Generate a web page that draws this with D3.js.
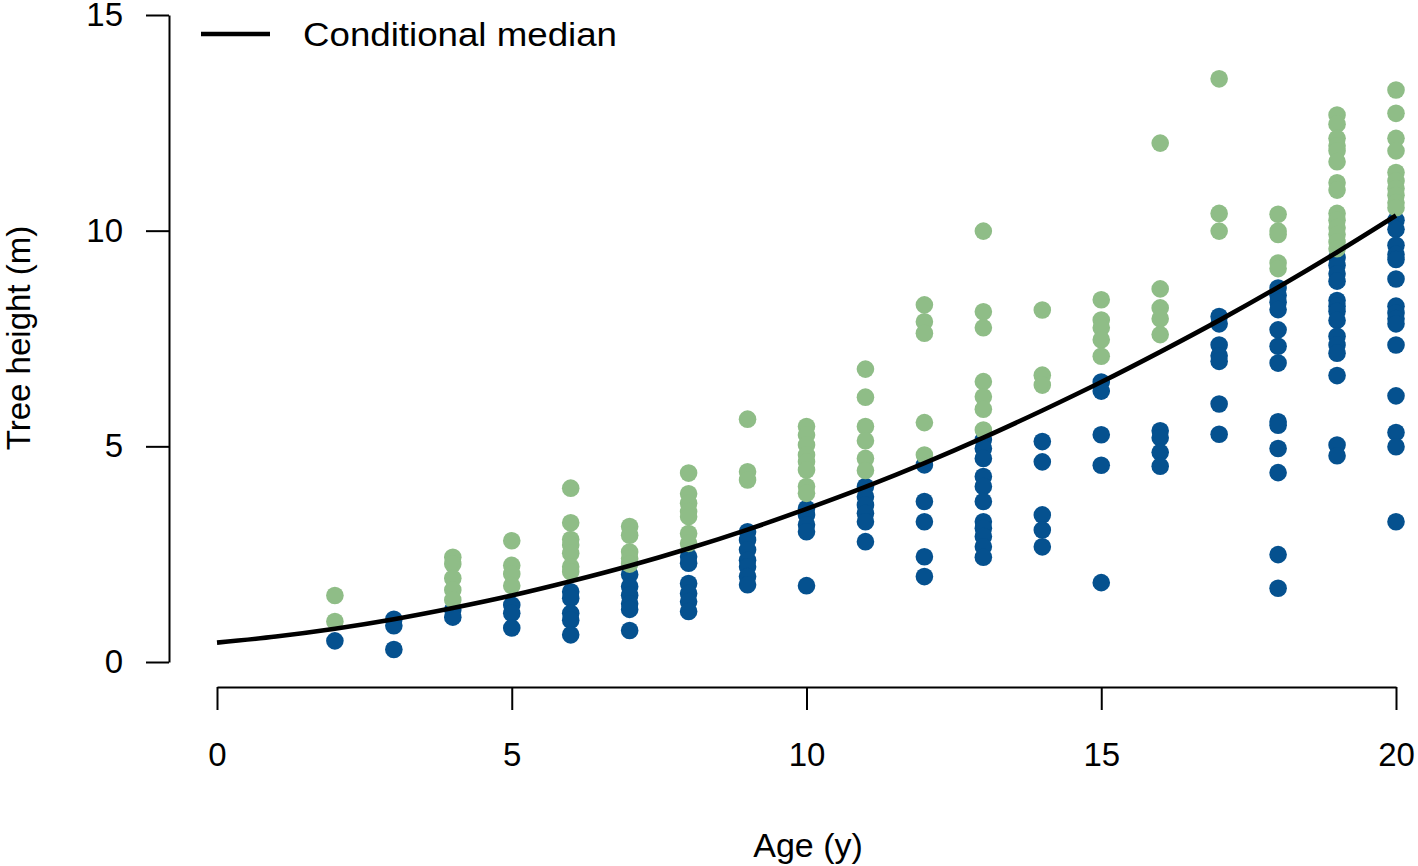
<!DOCTYPE html>
<html>
<head>
<meta charset="utf-8">
<script src="https://cdn.jsdelivr.net/npm/d3@7"></script>
<style>
  html, body { margin: 0; padding: 0; background: #fff; }
  svg { display: block; font-family: "Liberation Sans", Arial, Helvetica, sans-serif; }
</style>
</head>
<body>
<svg id="chart" width="1418" height="866"></svg>
<script>
// ---- data ----
const ages = [2,3,4,5,6,7,8,9,10,11,12,13,14,15,16,17,18,19,20];

// green points (above the conditional median)
const upperHeights = [
  [1.54, 0.94],
  [],
  [2.43, 2.27, 1.94, 1.67, 1.44],
  [2.81, 2.24, 2.04, 1.77],
  [4.03, 3.23, 2.84, 2.71, 2.52, 2.21, 2.09],
  [3.14, 2.94, 2.55, 2.40, 2.27],
  [4.38, 3.90, 3.68, 3.49, 3.37, 2.98, 2.75],
  [5.63, 4.41, 4.22],
  [5.46, 5.26, 5.03, 4.80, 4.64, 4.45, 4.07, 3.91],
  [6.79, 6.14, 5.46, 5.13, 4.72, 4.44],
  [8.28, 7.89, 7.62, 5.55, 4.80],
  [9.99, 8.12, 7.75, 6.50, 6.15, 5.86, 5.38],
  [8.16, 6.65, 6.42],
  [8.40, 7.93, 7.75, 7.47, 7.09],
  [12.03, 8.65, 8.21, 7.96, 7.59],
  [13.52, 10.40, 9.99],
  [10.38, 9.99, 9.91, 9.25, 9.12],
  [12.68, 12.47, 12.14, 11.97, 11.85, 11.60, 11.11, 10.94, 10.40, 10.24, 10.07, 9.91, 9.74, 9.58],
  [13.26, 12.72, 12.14, 11.85, 11.35, 11.15, 10.98, 10.82, 10.65, 10.53]
];

// blue points (below the conditional median)
const lowerHeights = [
  [0.49],
  [0.99, 0.84, 0.29],
  [1.21, 1.04],
  [1.32, 1.13, 0.79],
  [1.63, 1.48, 1.13, 0.97, 0.63],
  [2.03, 1.75, 1.55, 1.35, 1.22, 0.73],
  [2.44, 2.29, 1.82, 1.59, 1.40, 1.17],
  [3.02, 2.83, 2.60, 2.36, 2.21, 1.98, 1.79],
  [3.56, 3.41, 3.18, 3.02, 1.77],
  [4.07, 3.83, 3.64, 3.45, 3.25, 2.79],
  [4.57, 3.72, 3.25, 2.44, 1.98],
  [5.15, 4.95, 4.72, 4.30, 4.07, 3.72, 3.25, 3.10, 2.91, 2.67, 2.43],
  [5.11, 4.64, 3.41, 3.06, 2.67],
  [6.49, 6.28, 5.27, 4.56, 1.84],
  [5.36, 5.20, 4.86, 4.54],
  [8.01, 7.84, 7.35, 7.10, 6.97, 5.98, 5.28],
  [8.67, 8.50, 8.34, 8.17, 7.70, 7.32, 6.93, 5.57, 5.49, 4.95, 4.39, 2.49, 1.71],
  [9.37, 9.20, 9.00, 8.83, 8.38, 8.25, 8.13, 7.92, 7.55, 7.35, 7.16, 6.64, 5.03, 4.78],
  [10.24, 10.03, 9.66, 9.45, 9.33, 8.88, 8.25, 8.09, 7.96, 7.84, 7.35, 6.17, 5.32, 4.99, 3.25]
];

// conditional median curve, read at integer ages 0..20
const medianAges = [0,1,2,3,4,5,6,7,8,9,10,11,12,13,14,15,16,17,18,19,20];
const medianHeights = [0.45,0.59,0.77,0.99,1.25,1.54,1.87,2.23,2.63,3.07,3.55,4.06,4.61,5.20,5.83,6.49,7.19,7.92,8.69,9.50,10.35];

const xTicks = [0, 5, 10, 15, 20];
const yTicks = [0, 5, 10, 15];
const xTitle = "Age (y)";
const yTitle = "Tree height (m)";
const legendLabel = "Conditional median";

// ---- drawing ----
const svg = d3.select("#chart");
const x = d3.scaleLinear().domain([0, 20]).range([217, 1396]);
const y = d3.scaleLinear().domain([0, 15]).range([662, 15]);

const GREEN = "#8fbd87";
const BLUE = "#05518f";
const R = 8.8;

const flat = (heights) => heights.flatMap((hs, i) => hs.map(h => ({age: ages[i], h})));

// blue below, green on top
svg.append("g").selectAll("circle")
  .data(flat(lowerHeights)).join("circle")
  .attr("cx", d => x(d.age)).attr("cy", d => y(d.h)).attr("r", R)
  .attr("fill", BLUE);

svg.append("g").selectAll("circle")
  .data(flat(upperHeights)).join("circle")
  .attr("cx", d => x(d.age)).attr("cy", d => y(d.h)).attr("r", R)
  .attr("fill", GREEN);

// median curve
const line = d3.line()
  .x(d => x(d[0])).y(d => y(d[1]))
  .curve(d3.curveMonotoneX);
svg.append("path")
  .datum(medianAges.map((a, i) => [a, medianHeights[i]]))
  .attr("d", line)
  .attr("fill", "none")
  .attr("stroke", "#000")
  .attr("stroke-width", 4.6);

// axes
const fontSize = 33;
const xAxis = svg.append("g")
  .attr("transform", "translate(0,687)")
  .call(d3.axisBottom(x).tickValues(xTicks).tickSize(23).tickSizeOuter(0).tickPadding(33).tickFormat(d3.format("d")));
const yAxis = svg.append("g")
  .attr("transform", "translate(169,0)")
  .call(d3.axisLeft(y).tickValues(yTicks).tickSize(23).tickSizeOuter(0).tickPadding(23).tickFormat(d3.format("d")));

[xAxis, yAxis].forEach(g => {
  g.select(".domain").attr("stroke", "#000").attr("stroke-width", 2);
  g.selectAll(".tick line").attr("stroke", "#000").attr("stroke-width", 2);
  g.selectAll(".tick text")
    .attr("fill", "#000")
    .style("font-size", fontSize + "px")
    .style("font-family", "'Liberation Sans', Arial, sans-serif");
});

// axis titles
svg.append("text")
  .attr("x", 808).attr("y", 857)
  .attr("text-anchor", "middle")
  .style("font-size", "34px")
  .attr("fill", "#000")
  .text(xTitle);

svg.append("text")
  .attr("transform", "translate(30,338) rotate(-90)")
  .attr("text-anchor", "middle")
  .style("font-size", "33px")
  .attr("fill", "#000")
  .text(yTitle);

// legend
svg.append("line")
  .attr("x1", 201).attr("x2", 270)
  .attr("y1", 34).attr("y2", 34)
  .attr("stroke", "#000").attr("stroke-width", 4.6);
svg.append("text")
  .attr("x", 303).attr("y", 46)
  .attr("textLength", 314)
  .attr("lengthAdjust", "spacingAndGlyphs")
  .style("font-size", "34px")
  .attr("fill", "#000")
  .text(legendLabel);
</script>
</body>
</html>
